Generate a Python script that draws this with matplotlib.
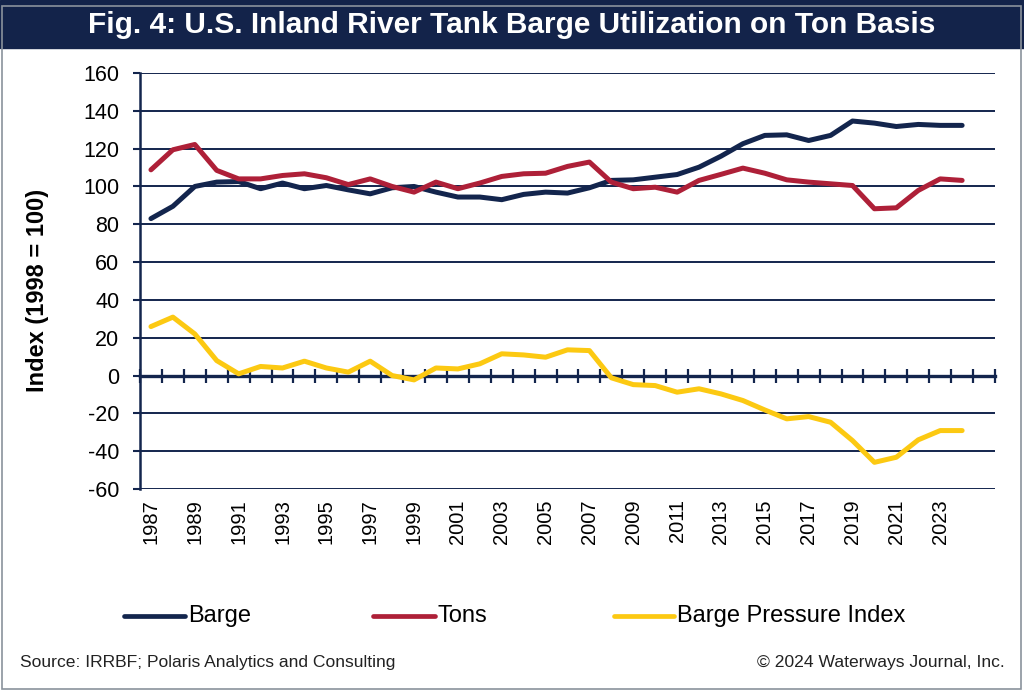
import numpy as np
import matplotlib.pyplot as plt
from matplotlib.patches import Rectangle
from matplotlib.lines import Line2D
import matplotlib.transforms as mtransforms

plt.rcParams['font.family'] = ['Liberation Sans', 'DejaVu Sans']

# Data (index, 1998 = 100)
years = list(range(1987, 2025))
barge = [83, 89.5, 100, 102.3, 102.6, 98.8, 101.8, 98.8, 100.5, 98.2, 96.1, 99.3, 100,
         97, 94.4, 94.4, 93, 95.8, 97, 96.5, 99.3, 103.2, 103.5, 104.9, 106.3, 110.2,
         116, 122.6, 127, 127.3, 124.3, 127, 134.6, 133.5, 131.7, 132.8, 132.3, 132.3]
tons = [108.8, 119.4, 122.2, 108.5, 104, 104, 105.8, 106.7, 104.6, 101, 104, 100, 97,
        102.3, 98.8, 101.8, 105.3, 106.7, 107, 110.6, 112.9, 102.3, 98.8, 99.6, 97, 103.2,
        106.4, 109.7, 107, 103.5, 102.3, 101.4, 100.5, 88.2, 88.7, 97.9, 104, 103.2]
bpi = [25.9, 30.9, 22, 7.9, 0.9, 4.8, 4, 7.6, 4, 1.8, 7.6, 0, -2.3,
       4, 3.5, 6.2, 11.5, 10.9, 9.7, 13.6, 13.2, -1.2, -4.8, -5.3, -8.8, -7,
       -9.7, -13.2, -18.2, -22.9, -21.7, -24.7, -34.4, -45.9, -43.2, -34, -29.1, -29.1]
n_cats = 39  # category axis runs 1987..2025
label_years = list(range(1987, 2024, 2))
series_names = ['Barge', 'Tons', 'Barge Pressure Index']

NAVY = '#13254d'
RED = '#ae2038'
YELLOW = '#fcc912'

fig = plt.figure(figsize=(10.24, 6.9), dpi=100)

# title banner and frame
fig.patches.append(Rectangle((0, 1 - 48 / 690), 1, 48 / 690, transform=fig.transFigure,
                             color='#13234a', zorder=0))
fig.patches.append(Rectangle((0.002, 0.002), 0.995, 0.99, transform=fig.transFigure,
                             fill=False, edgecolor='#8a929c', lw=1.2, zorder=0))
fig.text(0.5, 1 - 25 / 690, 'Fig. 4: U.S. Inland River Tank Barge Utilization on Ton Basis',
         color='white', fontsize=21.5, fontweight='bold', ha='center', va='center')

ax = fig.add_axes([140 / 1024, 1 - 489 / 690, 855 / 1024, 416 / 690])
x = np.arange(len(years))
ax.plot(x, barge, color=NAVY, lw=3.6, solid_capstyle='round', zorder=3)
ax.plot(x, tons, color=RED, lw=3.6, solid_capstyle='round', zorder=3)
ax.plot(x, bpi, color=YELLOW, lw=3.6, solid_capstyle='round', zorder=3)

ax.set_xlim(-0.5, n_cats - 0.5)
ax.set_ylim(-60, 160)
ax.set_yticks(np.arange(-60, 161, 20))
ax.set_yticklabels([str(v) for v in range(-60, 161, 20)], fontsize=15.5)
ax.tick_params(axis='y', direction='out', length=5, width=1.5, color=NAVY, pad=10)
ax.grid(axis='y', color=NAVY, lw=1.4)
ax.set_axisbelow(True)

for s in ['top', 'right']:
    ax.spines[s].set_visible(False)
ax.spines['left'].set_color(NAVY)
ax.spines['left'].set_linewidth(1.8)
ax.spines['bottom'].set_position(('data', 0))
ax.spines['bottom'].set_color(NAVY)
ax.spines['bottom'].set_linewidth(2.4)
ax.set_xticks(np.arange(-0.5, n_cats, 1))
ax.set_xticklabels([])
ax.tick_params(axis='x', direction='inout', length=10, width=1.6, color=NAVY)

trans = mtransforms.blended_transform_factory(ax.transData, ax.transAxes)
for yr in label_years:
    ax.text(years.index(yr), -0.025, str(yr), rotation=90, ha='center', va='top',
            fontsize=14.5, transform=trans)

fig.text(38 / 1024, 1 - 290 / 690, 'Index (1998 = 100)', rotation=90, fontsize=17,
         fontweight='bold', ha='center', va='center')

# legend, drawn as in the source (line sample then label)
leg_x = [(124, 185), (373, 435), (614, 674)]
leg_y = 1 - 616 / 690
for (x0, x1), col, name in zip(leg_x, [NAVY, RED, YELLOW], series_names):
    fig.add_artist(Line2D([x0 / 1024, x1 / 1024], [leg_y, leg_y], color=col, lw=3.4,
                          solid_capstyle='round', transform=fig.transFigure))
    fig.text((x1 + 3) / 1024, leg_y, name, fontsize=17, ha='left', va='center')

fig.text(20 / 1024, 1 - 662 / 690, 'Source: IRRBF; Polaris Analytics and Consulting',
         fontsize=12.6, ha='left', va='center', color='#222222')
fig.text(1005 / 1024, 1 - 662 / 690, '\u00a9 2024 Waterways Journal, Inc.',
         fontsize=12.6, ha='right', va='center', color='#222222')

fig.savefig('out.png', dpi=100)
